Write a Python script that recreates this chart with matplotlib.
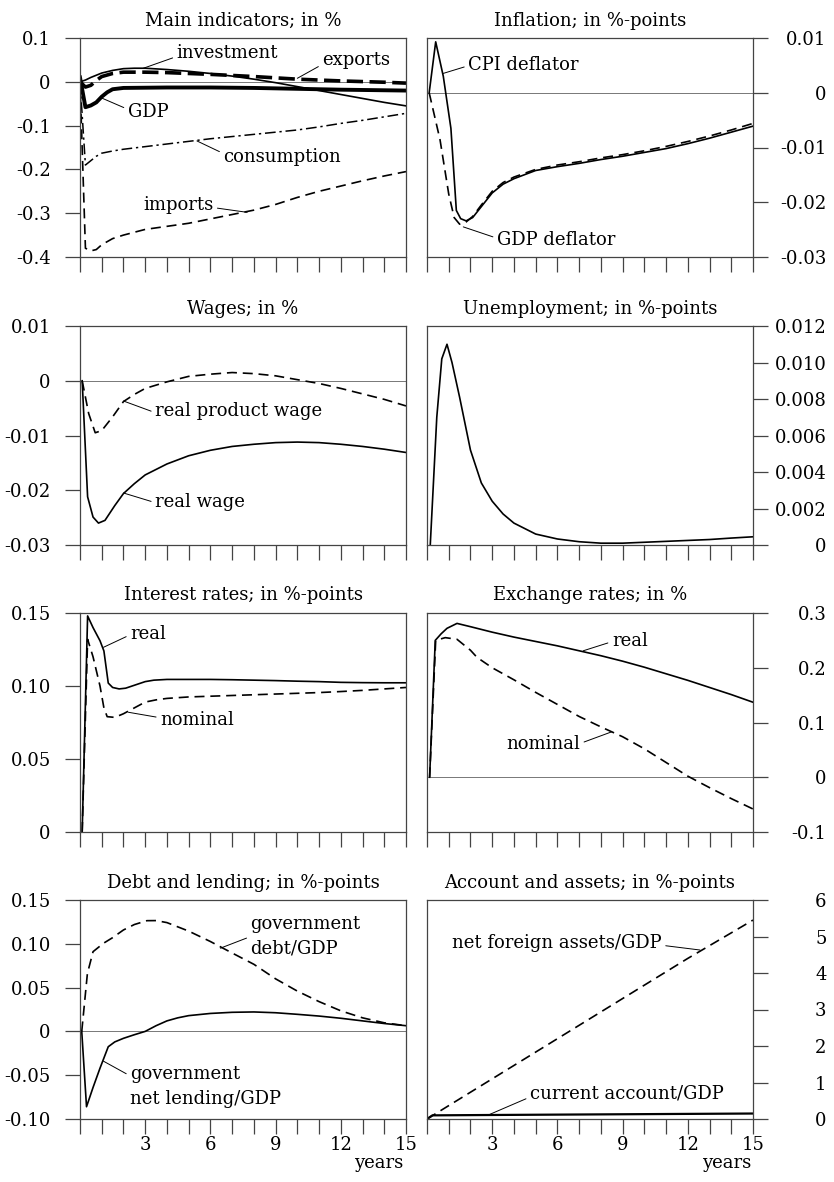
import matplotlib.pyplot as plt

plt.rcParams['font.family'] = 'DejaVu Serif'
plt.rcParams['font.size'] = 13

# ---- data (years after shock, deviation from baseline) ----
years_ticks = list(range(16))
years_labels = ['', '', '', '3', '', '', '6', '', '', '9', '', '', '12', '', '', '15']

# main indicators, in %
inv_x = [0, 0.25, 0.5, 1, 1.5, 2, 2.5, 3, 4, 5, 6, 7, 8, 9, 10, 11, 12, 13, 14, 15]
inv_y = [0, 0.004, 0.010, 0.020, 0.026, 0.030, 0.031, 0.031, 0.028, 0.024, 0.019, 0.013,
         0.006, -0.002, -0.011, -0.020, -0.029, -0.038, -0.047, -0.055]
exp_x = [0, 0.25, 0.5, 0.75, 1, 1.5, 2, 3, 4, 6, 8, 10, 12, 14, 15]
exp_y = [0, -0.012, -0.008, 0.003, 0.012, 0.019, 0.022, 0.022, 0.021, 0.017, 0.012,
         0.006, 0.002, -0.001, -0.003]
gdp_x = [0, 0.25, 0.5, 0.75, 1, 1.25, 1.5, 2, 4, 6, 8, 10, 12, 15]
gdp_y = [0.010, -0.058, -0.054, -0.047, -0.034, -0.024, -0.017, -0.014, -0.013, -0.013,
         -0.014, -0.016, -0.018, -0.020]
cons_x = [0, 0.25, 0.5, 0.75, 1, 1.5, 2, 3, 4, 5, 6, 7, 8, 9, 10, 11, 12, 13, 14, 15]
cons_y = [0, -0.19, -0.18, -0.17, -0.163, -0.158, -0.154, -0.148, -0.142, -0.136, -0.130,
          -0.125, -0.120, -0.115, -0.110, -0.103, -0.095, -0.088, -0.080, -0.072]
imp_x = [0, 0.25, 0.5, 0.75, 1, 1.5, 2, 3, 4, 5, 6, 7, 8, 9, 10, 11, 12, 13, 14, 15]
imp_y = [0, -0.380, -0.386, -0.383, -0.372, -0.358, -0.350, -0.337, -0.330, -0.323, -0.313,
         -0.303, -0.293, -0.280, -0.264, -0.250, -0.238, -0.226, -0.215, -0.205]

# inflation, in %-points
cpi_x = [0.1, 0.4, 0.75, 1.1, 1.35, 1.55, 1.8, 2.1, 2.5, 3, 3.5, 4, 5, 6, 7, 8, 9, 10, 11,
         12, 13, 14, 15]
cpi_y = [0, 0.0093, 0.003, -0.0065, -0.0215, -0.0230, -0.0234, -0.0228, -0.0208, -0.0183,
         -0.0167, -0.0157, -0.0142, -0.0135, -0.0129, -0.0122, -0.0116, -0.0109, -0.0102,
         -0.0093, -0.0083, -0.0072, -0.0061]
gdpdef_x = [0.1, 0.6, 1.0, 1.25, 1.5, 1.8, 2.1, 2.5, 3, 3.5, 4, 5, 6, 7, 8, 9, 10, 11, 12,
            13, 14, 15]
gdpdef_y = [0, -0.0086, -0.0185, -0.0228, -0.0240, -0.0236, -0.0226, -0.0205, -0.0180,
            -0.0164, -0.0154, -0.0140, -0.0132, -0.0126, -0.0119, -0.0113, -0.0106, -0.0098,
            -0.0089, -0.0079, -0.0068, -0.0056]

# wages, in %
rpw_x = [0.1, 0.4, 0.7, 1, 1.5, 2, 2.5, 3, 4, 5, 6, 7, 8, 9, 10, 11, 12, 13, 14, 15]
rpw_y = [0, -0.0060, -0.0095, -0.0091, -0.0066, -0.0038, -0.0025, -0.0014, -0.0002, 0.0008,
         0.0012, 0.0015, 0.0013, 0.0009, 0.0002, -0.0005, -0.0014, -0.0024, -0.0034, -0.0046]
rw_x = [0.1, 0.35, 0.6, 0.85, 1.15, 1.6, 2, 2.5, 3, 4, 5, 6, 7, 8, 9, 10, 11, 12, 13, 14, 15]
rw_y = [0, -0.0212, -0.0249, -0.0260, -0.0255, -0.0228, -0.0206, -0.0188, -0.0172, -0.0152,
        -0.0137, -0.0127, -0.0120, -0.0116, -0.0113, -0.0112, -0.0113, -0.0116, -0.0120,
        -0.0125, -0.0131]

# unemployment, in %-points
unemp_x = [0.15, 0.45, 0.68, 0.92, 1.15, 1.5, 2, 2.5, 3, 3.5, 4, 5, 6, 7, 8, 9, 10, 11, 12,
           13, 14, 15]
unemp_y = [0, 0.0070, 0.0102, 0.0110, 0.0100, 0.0081, 0.0052, 0.0034, 0.0024, 0.0017,
           0.0012, 0.0006, 0.00033, 0.00018, 0.0001, 0.0001, 0.00015, 0.0002, 0.00025,
           0.0003, 0.00038, 0.00045]

# interest rates, in %-points
ir_real_x = [0.1, 0.35, 0.6, 0.92, 1.1, 1.3, 1.5, 1.8, 2.1, 2.5, 3, 3.4, 4, 5, 6, 7, 8, 9,
             10, 11, 12, 13, 14, 15]
ir_real_y = [0, 0.148, 0.140, 0.131, 0.124, 0.102, 0.099, 0.098, 0.0985, 0.1005, 0.103,
             0.104, 0.1045, 0.1045, 0.1045, 0.1043, 0.104, 0.1037, 0.1033, 0.103, 0.1025,
             0.1023, 0.1022, 0.1022]
ir_nom_x = [0.1, 0.35, 0.6, 0.92, 1.1, 1.25, 1.6, 2, 2.5, 3, 3.5, 4, 5, 6, 7, 8, 9, 10, 11,
            12, 13, 14, 15]
ir_nom_y = [0, 0.132, 0.120, 0.100, 0.085, 0.079, 0.0785, 0.081, 0.085, 0.089, 0.0905,
            0.0915, 0.0925, 0.093, 0.0935, 0.094, 0.0945, 0.095, 0.0955, 0.0962, 0.097,
            0.098, 0.099]

# exchange rates, in %
fx_real_x = [0.12, 0.38, 0.65, 0.92, 1.38, 2, 3, 4, 5, 6, 7, 8, 9, 10, 11, 12, 13, 14, 15]
fx_real_y = [0, 0.250, 0.262, 0.272, 0.281, 0.275, 0.265, 0.256, 0.248, 0.240, 0.231, 0.222,
             0.212, 0.201, 0.189, 0.177, 0.164, 0.151, 0.137]
fx_nom_x = [0.12, 0.4, 0.84, 1.38, 2, 2.3, 3, 4, 5, 6, 7, 8, 9, 10, 11, 12, 13, 14, 15]
fx_nom_y = [0, 0.250, 0.255, 0.252, 0.232, 0.219, 0.200, 0.178, 0.155, 0.133, 0.111, 0.092,
            0.074, 0.052, 0.027, 0.002, -0.019, -0.039, -0.058]

# debt and lending, in %-points
debt_x = [0.08, 0.34, 0.6, 1.08, 1.5, 2, 2.5, 3.08, 3.5, 4, 5, 6, 7, 8, 9, 10, 11, 12, 13,
          14, 15]
debt_y = [0, 0.066, 0.091, 0.1006, 0.107, 0.1158, 0.122, 0.1264, 0.1265, 0.1242, 0.1145,
          0.1026, 0.0895, 0.0766, 0.060, 0.046, 0.034, 0.0235, 0.0155, 0.0098, 0.0065]
lend_x = [0.08, 0.3, 0.6, 0.92, 1.3, 1.6, 2, 2.5, 3, 3.5, 4, 4.5, 5, 6, 7, 8, 9, 10, 11, 12,
          13, 14, 15]
lend_y = [0, -0.086, -0.064, -0.042, -0.0175, -0.012, -0.0079, -0.0038, 0.0, 0.0065, 0.012,
          0.0155, 0.018, 0.0205, 0.0218, 0.0222, 0.0213, 0.0195, 0.0175, 0.015, 0.012,
          0.009, 0.0065]

# account and assets, in %-points
nfa_x = [0, 3, 6, 9, 12, 15]
nfa_y = [0, 1.1, 2.2, 3.3, 4.4, 5.45]
ca_x = [0, 0.25, 3, 6, 9, 12, 15]
ca_y = [0, 0.10, 0.11, 0.12, 0.13, 0.14, 0.15]

# ---- figure ----
fig = plt.figure(figsize=(8.34, 11.82), dpi=100)

SPINE = '#444444'
col_x = [80 / 834, 427 / 834]
ax_w = 326 / 834
ax_h = 219 / 1182
row_bottom = [1 - 257 / 1182, 1 - 545 / 1182, 1 - 832 / 1182, 1 - 1119 / 1182]

thin = dict(color='black', lw=1.2)
dashed = dict(color='black', lw=1.2, ls=(0, (6, 3.5)))
lead = dict(arrowstyle='-', lw=0.7, color='black', shrinkA=1, shrinkB=0)


def panel(col, row, title, ylim, yticks, ylabels, zero=True):
    ax = fig.add_axes([col_x[col], row_bottom[row], ax_w, ax_h])
    ax.set_xlim(0, 15)
    ax.set_ylim(*ylim)
    for s in ax.spines.values():
        s.set_color(SPINE)
        s.set_linewidth(0.9)
    ax.set_xticks(years_ticks)
    if row == 3:
        ax.set_xticklabels(years_labels)
    else:
        ax.set_xticklabels([])
    ax.tick_params(axis='x', direction='out', length=11, width=0.9, color=SPINE, pad=1)
    ax.set_yticks(yticks)
    if col == 0:
        ax.set_yticklabels(ylabels)
        ax.tick_params(axis='y', direction='out', length=11, width=0.9, color=SPINE, pad=10)
    else:
        ax.yaxis.tick_right()
        ax.set_yticklabels(ylabels, ha='right')
        ax.tick_params(axis='y', direction='out', length=11, width=0.9, color=SPINE, pad=42)
    if zero:
        ax.axhline(0, color='#777777', lw=0.7, zorder=1)
    ax.set_title(title, pad=9, fontsize=13)
    return ax


# Main indicators
ax = panel(0, 0, 'Main indicators; in %', (-0.4, 0.1),
           [0.1, 0, -0.1, -0.2, -0.3, -0.4], ['0.1', '0', '-0.1', '-0.2', '-0.3', '-0.4'])
ax.plot(inv_x, inv_y, **thin)
ax.plot(exp_x, exp_y, color='black', lw=2.6, ls=(0, (4.5, 1.8)))
ax.plot(gdp_x, gdp_y, color='black', lw=2.8)
ax.plot(cons_x, cons_y, color='black', lw=1.1, ls=(0, (7, 2.5, 1.5, 2.5)))
ax.plot(imp_x, imp_y, **dashed)
ax.annotate('investment', xy=(2.92, 0.031), xytext=(4.45, 0.066), ha='left', va='center',
            arrowprops=dict(lead, relpos=(0, 0.3)))
ax.annotate('exports', xy=(10.0, 0.008), xytext=(11.15, 0.05), ha='left', va='center',
            arrowprops=dict(lead, relpos=(0, 0.25)))
ax.annotate('GDP', xy=(0.95, -0.036), xytext=(2.2, -0.069), ha='left', va='center',
            arrowprops=dict(lead, relpos=(0, 0.65)))
ax.annotate('consumption', xy=(5.38, -0.135), xytext=(6.6, -0.172), ha='left', va='center',
            arrowprops=dict(lead, relpos=(0, 0.7)))
ax.annotate('imports', xy=(7.69, -0.298), xytext=(2.9, -0.281), ha='left', va='center',
            arrowprops=dict(lead, relpos=(1, 0.35)))

# Inflation
ax = panel(1, 0, 'Inflation; in %-points', (-0.03, 0.01),
           [0.01, 0, -0.01, -0.02, -0.03], ['0.01', '0', '-0.01', '-0.02', '-0.03'])
ax.plot(cpi_x, cpi_y, **thin)
ax.plot(gdpdef_x, gdpdef_y, **dashed)
ax.annotate('CPI deflator', xy=(0.72, 0.0035), xytext=(1.9, 0.0051), ha='left', va='center',
            arrowprops=dict(lead, relpos=(0, 0.45)))
ax.annotate('GDP deflator', xy=(1.67, -0.0245), xytext=(3.22, -0.0269), ha='left',
            va='center', arrowprops=dict(lead, relpos=(0, 0.6)))

# Wages
ax = panel(0, 1, 'Wages; in %', (-0.03, 0.01),
           [0.01, 0, -0.01, -0.02, -0.03], ['0.01', '0', '-0.01', '-0.02', '-0.03'])
ax.plot(rpw_x, rpw_y, **dashed)
ax.plot(rw_x, rw_y, **thin)
ax.annotate('real product wage', xy=(2.0, -0.0037), xytext=(3.46, -0.0055), ha='left',
            va='center', arrowprops=dict(lead, relpos=(0, 0.4)))
ax.annotate('real wage', xy=(2.0, -0.0205), xytext=(3.46, -0.0221), ha='left', va='center',
            arrowprops=dict(lead, relpos=(0, 0.45)))

# Unemployment
ax = panel(1, 1, 'Unemployment; in %-points', (0, 0.012),
           [0.012, 0.010, 0.008, 0.006, 0.004, 0.002, 0],
           ['0.012', '0.010', '0.008', '0.006', '0.004', '0.002', '0'], zero=False)
ax.plot(unemp_x, unemp_y, **thin)

# Interest rates
ax = panel(0, 2, 'Interest rates; in %-points', (0, 0.15),
           [0.15, 0.10, 0.05, 0], ['0.15', '0.10', '0.05', '0'], zero=False)
ax.plot(ir_real_x, ir_real_y, **thin)
ax.plot(ir_nom_x, ir_nom_y, **dashed)
ax.annotate('real', xy=(1.08, 0.1265), xytext=(2.31, 0.1357), ha='left', va='center',
            arrowprops=dict(lead, relpos=(0, 0.45)))
ax.annotate('nominal', xy=(2.23, 0.082), xytext=(3.69, 0.0764), ha='left', va='center',
            arrowprops=dict(lead, relpos=(0, 0.65)))

# Exchange rates
ax = panel(1, 2, 'Exchange rates; in %', (-0.1, 0.3),
           [0.3, 0.2, 0.1, 0, -0.1], ['0.3', '0.2', '0.1', '0', '-0.1'])
ax.plot(fx_real_x, fx_real_y, **thin)
ax.plot(fx_nom_x, fx_nom_y, **dashed)
ax.annotate('real', xy=(7.19, 0.231), xytext=(8.51, 0.2493), ha='left', va='center',
            arrowprops=dict(lead, relpos=(0, 0.45)))
ax.annotate('nominal', xy=(8.5, 0.083), xytext=(7.04, 0.06), ha='right', va='center',
            arrowprops=dict(lead, relpos=(1, 0.55)))

# Debt and lending
ax = panel(0, 3, 'Debt and lending; in %-points', (-0.10, 0.15),
           [0.15, 0.10, 0.05, 0, -0.05, -0.10],
           ['0.15', '0.10', '0.05', '0', '-0.05', '-0.10'])
ax.plot(debt_x, debt_y, **dashed)
ax.plot(lend_x, lend_y, **thin)
ax.annotate('government\ndebt/GDP', xy=(6.46, 0.095), xytext=(7.85, 0.1083), ha='left',
            va='center', linespacing=1.45, arrowprops=dict(lead, relpos=(0, 0.5)))
ax.annotate('government\nnet lending/GDP', xy=(1.08, -0.034), xytext=(2.31, -0.0629),
            ha='left', va='center', linespacing=1.45, arrowprops=dict(lead, relpos=(0, 0.75)))
fig.text(403 / 834, 1 - 1163 / 1182, 'years', ha='right', va='center')

# Account and assets
ax = panel(1, 3, 'Account and assets; in %-points', (0, 6),
           [6, 5, 4, 3, 2, 1, 0], ['6', '5', '4', '3', '2', '1', '0'], zero=False)
ax.plot(nfa_x, nfa_y, **dashed)
ax.plot(ca_x, ca_y, color='black', lw=1.6)
ax.annotate('net foreign assets/GDP', xy=(12.56, 4.63), xytext=(1.15, 4.81), ha='left',
            va='center', arrowprops=dict(lead, relpos=(1, 0.4)))
ax.annotate('current account/GDP', xy=(2.9, 0.13), xytext=(4.74, 0.70), ha='left',
            va='center', arrowprops=dict(lead, relpos=(0, 0.3)))
fig.text(751 / 834, 1 - 1163 / 1182, 'years', ha='right', va='center')

fig.savefig('out.png', dpi=100)
